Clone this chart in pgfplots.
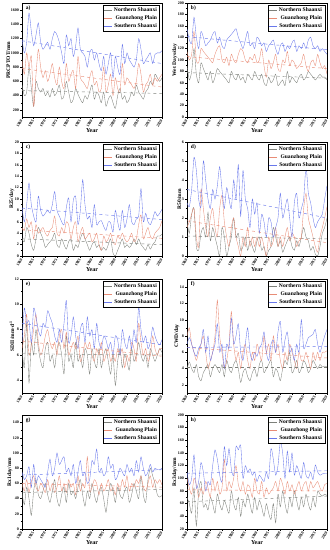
\documentclass[border=0pt]{standalone}
\usepackage{fontspec}
\setmainfont{Liberation Serif}
\usepackage{pgfplots}
\usepackage{pgfplotstable}
\pgfplotsset{compat=1.18}
\definecolor{nsC}{RGB}{125,128,122}
\definecolor{gzC}{RGB}{232,140,118}
\definecolor{ssC}{RGB}{105,120,235}

\pgfplotstableread{
yr N G S
1960 550 900 1200
1961 400 700 1000
1962 450 1000 1150
1963 800 800 1560
1964 500 950 1300
1965 250 250 1100
1966 600 700 1250
1967 500 1050 1420
1968 450 800 1150
1969 500 650 1050
1970 400 750 1100
1971 450 600 1150
1972 380 700 1050
1973 500 850 1200
1974 400 650 1300
1975 450 550 1250
1976 550 800 1150
1977 350 600 1000
1978 400 500 850
1979 600 850 1250
1980 450 600 1100
1981 300 700 1200
1982 350 750 950
1983 500 500 1100
1984 420 950 1350
1985 350 650 1050
1986 300 600 1000
1987 400 550 950
1988 350 500 800
1989 450 650 1000
1990 550 750 1050
1991 350 550 900
1992 450 600 1000
1993 400 450 850
1994 300 500 750
1995 450 800 950
1996 250 450 700
1997 350 550 850
1998 400 700 1000
1999 300 400 650
2000 220 650 950
2001 400 500 800
2002 500 450 700
2003 350 850 1120
2004 400 550 850
2005 300 650 1000
2006 350 600 900
2007 450 550 850
2008 400 500 800
2009 550 600 900
2010 450 850 1200
2011 400 700 1050
2012 350 450 850
2013 450 550 900
2014 500 600 950
2015 600 700 1000
2016 550 550 850
2017 700 650 980
2018 650 600 1000
2019 600 650 1000
2020 650 700 1030
}\da

\pgfplotstableread{
yr N G S
1960 90 115 155
1961 65 100 135
1962 80 110 130
1963 120 150 175
1964 75 100 140
1965 60 95 120
1966 95 120 150
1967 85 115 140
1968 75 110 125
1969 65 105 130
1970 80 100 135
1971 60 95 145
1972 70 110 150
1973 85 120 130
1974 80 125 140
1975 75 100 125
1976 70 95 120
1977 65 105 135
1978 60 90 140
1979 80 110 145
1980 70 100 150
1981 65 95 155
1982 75 110 140
1983 65 120 130
1984 70 115 120
1985 60 100 135
1986 75 95 150
1987 70 105 125
1988 65 100 130
1989 80 110 120
1990 70 95 140
1991 65 100 135
1992 75 120 125
1993 60 90 130
1994 55 70 115
1995 70 100 125
1996 60 85 130
1997 65 95 135
1998 75 110 120
1999 55 85 110
2000 60 80 125
2001 65 100 130
2002 55 95 115
2003 80 115 125
2004 60 90 120
2005 70 100 130
2006 65 95 135
2007 60 85 115
2008 70 90 125
2009 75 95 120
2010 65 110 130
2011 70 90 120
2012 80 80 135
2013 75 95 140
2014 70 100 125
2015 65 90 120
2016 70 110 125
2017 75 95 115
2018 70 85 120
2019 70 90 115
2020 65 75 110
}\db

\pgfplotstableread{
yr N G S
1960 3 5 8.5
1961 2.5 4.5 6
1962 5 6.5 9
1963 4 5 12.8
1964 2 6 9
1965 1 3 7
1966 3 5.5 6
1967 5 4 10.5
1968 4 4.5 8
1969 3 5 7
1970 1.5 4 7.5
1971 2 3.5 8
1972 2.5 4.5 7.5
1973 3 5 9
1974 4 7 11.3
1975 2 4 8
1976 1.5 3.5 7
1977 3 5 6
1978 2 4 5.5
1979 1.2 6 8.5
1980 2.5 5.5 10.2
1981 3 3 6
1982 1 5 9.8
1983 2 6 10.4
1984 1.5 2.5 5.5
1985 3 4 8
1986 4 5 13.4
1987 3 3 9
1988 2 3.5 6.5
1989 1 4 7
1990 2 2.5 5
1991 2.5 3 9
1992 1.5 4 5.5
1993 2 2 6
1994 1 1 6.2
1995 1.5 3.5 5.2
1996 1 2.5 4.5
1997 2 3 6
1998 3 4 5.8
1999 0.5 2.5 4.2
2000 0 2 8
2001 1 3.5 6
2002 2 3 4.5
2003 3 4 8
2004 1.5 3 5
2005 2 2.5 6.5
2006 1.5 3 9
2007 2 4 6
2008 3 2.5 5.5
2009 2 3 6.5
2010 3 5.5 7
2011 2 7.2 11.8
2012 1.5 3 6
2013 1 4 7.5
2014 2 5 6
2015 1.2 3.5 5.5
2016 2 3 6.5
2017 2.5 4 7.8
2018 3.5 4.5 7
2019 3.5 5 7.5
2020 3.8 6.2 8.2
}\dc

\pgfplotstableread{
yr N G S
1960 1.8 1.5 2.8
1961 1.2 1.8 2.6
1962 2.2 2.2 3.5
1963 2.5 2.5 5.2
1964 0.5 1 4.5
1965 0.3 0.5 3
1966 1.2 3.5 2.6
1967 1.5 2.5 5
1968 1 1.5 4
1969 2.3 1 3
1970 0.8 2 2.5
1971 1.5 2.5 3.5
1972 1 1.5 3
1973 0.5 1 3.7
1974 0 2.5 4.7
1975 1.5 3.2 3.5
1976 1 1.8 2.5
1977 0 1 3.6
1978 0.5 0.5 3
1979 1 1.5 2.5
1980 2 2 4
1981 1 1 3
1982 1.2 0.5 4.8
1983 0.3 0 2.1
1984 0.5 1 4.5
1985 1 0.5 3
1986 0.3 1.5 2.5
1987 0.8 0.5 1.5
1988 0.5 1 3
1989 0.2 0.5 2.2
1990 0.8 1 2.8
1991 1 0.5 1.2
1992 0.3 1 2.2
1993 0.5 0.5 1.8
1994 0 0 1
1995 0.3 1 2
1996 0.5 0.5 1.8
1997 1.5 0.8 1
1998 1 1.5 1.5
1999 0.5 0.5 2
2000 0.8 1 3.3
2001 0.2 0.5 2
2002 0.5 1 2.5
2003 0.8 1.5 3
2004 1 0.8 2
2005 0.5 1.2 1
2006 0.3 1 2.8
2007 0.8 0.5 3.3
2008 0.5 0.8 2
2009 1 1 2.5
2010 1.5 2.5 3
2011 1 3.3 4.7
2012 0.8 2 3.3
2013 0.3 1.5 2.8
2014 0.5 1 2
2015 0.1 0.5 1.5
2016 0 0.2 1.8
2017 0.5 1 2
2018 1.2 1.5 2.2
2019 1.5 2 3
2020 2 2.6 3.7
}\dd

\pgfplotstableread{
yr N G S
1960 6.5 6.5 7
1961 5 7.5 9.7
1962 8.5 9.2 8.5
1963 3.8 6 8.7
1964 7 6.8 7
1965 6 8 9.7
1966 8 9.2 9
1967 6.5 7 8
1968 5.5 6 7.5
1969 5 6.5 8.5
1970 6.5 7.5 8.2
1971 7 8 9.5
1972 5.5 7 9
1973 6 6.5 8.5
1974 5 7 7.5
1975 6.5 6 7
1976 7 7.5 8
1977 6 8 7
1978 4.5 6.5 8.5
1979 7.5 7.8 10.3
1980 5.5 6 7
1981 6 6.5 7.5
1982 5 7 9
1983 7 6.5 7.5
1984 5.5 7.5 6.5
1985 6 5.5 8
1986 5 6 8.5
1987 6.5 7 7
1988 6 6.5 9
1989 4.5 7 7.5
1990 6.5 6 8
1991 5.5 5.5 6.5
1992 5 6.5 8.5
1993 6.5 6 7
1994 5 7 6.5
1995 6 5.5 7.5
1996 6.5 6 7.2
1997 5.5 6.5 6.5
1998 4.5 5.5 7
1999 6 6 6
2000 3.6 5.5 7.5
2001 5.5 6.5 7.2
2002 6.5 6 6
2003 5 6.5 8
2004 6 5 7
2005 5.5 6 6.5
2006 4.8 5.5 7.5
2007 6.5 7 6.5
2008 5.5 6.5 8
2009 6 5.5 7
2010 7 8.5 9.8
2011 6 7 8
2012 5.5 6 7
2013 6 6.5 7.5
2014 5 5.5 6.5
2015 6.5 6 7
2016 6 7.5 8.2
2017 5.5 6.5 7.5
2018 6 6 7
2019 6.5 6.5 6.8
2020 6.2 6.5 7.2
}\de

\pgfplotstableread{
yr N G S
1960 4 8 7
1961 4.8 9 7.8
1962 4 7 7
1963 3.5 6 6
1964 4.5 5 5.5
1965 3 6 6.5
1966 2.5 7 7
1967 3.5 8 8.8
1968 4 6 6
1969 4.5 4 8
1970 3 5 5
1971 4 6 6
1972 4.5 8 7
1973 4 12.4 9.5
1974 3.5 8 6
1975 4.5 6 7
1976 3 4 4
1977 5 5 7
1978 4 7 6.5
1979 3.5 11 10.2
1980 4.5 7 7
1981 5 5 8
1982 4 6 9.5
1983 2.3 4 6
1984 3.5 6 5
1985 4 7 7
1986 3 5 9
1987 2.5 4 6
1988 3.5 6 5
1989 4 5 6
1990 3 7 5.5
1991 4.5 6 6.5
1992 5 5 7
1993 3.5 8 8.5
1994 4 6 6
1995 4.5 7 5
1996 5 5 7
1997 3 8 7.5
1998 4 6 6
1999 3.5 7 8.5
2000 2.5 5 9.8
2001 4 4 6
2002 5 6 7.5
2003 4.5 5 8.5
2004 6 7 6
2005 3.5 6 6.5
2006 4 5 5
2007 5 4 7
2008 3.5 6 6
2009 4 5 10
2010 5 5 6.5
2011 4.5 6 7
2012 3.5 5 7.8
2013 4 4 8
2014 5 6 8.2
2015 4.5 5 8.8
2016 4 6 7
2017 4.5 5 6
2018 4.2 6 7
2019 4.3 6 8
2020 4.2 6.2 8.8
}\df

\pgfplotstableread{
yr N G S
1960 48 60 75
1961 32 50 65
1962 55 65 70
1963 40 48 82
1964 18 62 55
1965 50 70 85
1966 65 55 60
1967 45 50 70
1968 40 60 65
1969 50 55 60
1970 60 48 55
1971 45 65 75
1972 35 50 92
1973 50 60 70
1974 65 48 80
1975 40 55 100
1976 30 70 85
1977 45 50 90
1978 55 60 95
1979 35 48 75
1980 60 65 80
1981 45 55 70
1982 50 60 85
1983 40 45 60
1984 55 70 75
1985 65 50 90
1986 45 60 70
1987 30 55 75
1988 50 95 60
1989 40 50 65
1990 60 55 90
1991 45 65 85
1992 35 60 105
1993 50 45 75
1994 55 60 80
1995 40 50 70
1996 22 55 75
1997 45 65 95
1998 60 50 80
1999 50 55 85
2000 35 45 65
2001 55 60 70
2002 45 50 80
2003 40 65 75
2004 50 55 70
2005 55 70 85
2006 35 50 75
2007 45 60 80
2008 60 55 70
2009 50 65 90
2010 40 60 75
2011 70 70 95
2012 45 55 80
2013 35 50 70
2014 65 60 75
2015 80 70 85
2016 70 55 75
2017 60 65 80
2018 45 60 78
2019 42 65 78
2020 44 58 80
}\dg

\pgfplotstableread{
yr N G S
1960 70 100 110
1961 60 85 90
1962 45 75 100
1963 85 100 137
1964 25 90 85
1965 80 70 95
1966 95 85 125
1967 55 75 110
1968 60 95 80
1969 50 85 95
1970 70 70 90
1971 60 100 120
1972 45 80 145
1973 75 95 130
1974 60 75 105
1975 50 85 95
1976 65 130 150
1977 55 80 120
1978 45 95 147
1979 80 85 115
1980 60 100 105
1981 50 120 150
1982 70 90 145
1983 40 80 152
1984 65 95 100
1985 55 75 120
1986 75 90 110
1987 60 85 115
1988 45 70 105
1989 70 100 110
1990 50 80 95
1991 65 75 105
1992 55 95 100
1993 40 70 95
1994 60 85 110
1995 45 75 100
1996 35 80 147
1997 60 85 130
1998 30 95 105
1999 75 80 120
2000 55 100 158
2001 80 90 140
2002 60 75 100
2003 45 95 143
2004 70 80 110
2005 55 90 140
2006 80 75 105
2007 65 85 120
2008 50 95 110
2009 70 80 100
2010 55 90 125
2011 75 95 105
2012 60 80 100
2013 50 95 110
2014 70 85 98
2015 55 90 121
2016 80 95 110
2017 75 85 105
2018 72 80 107
2019 75 90 108
2020 73 92 108
}\dh

\pgfplotsset{
  panel/.style={
    scale only axis, width=140bp, height=114bp,
    xmin=1960, xmax=2020, xtick={1960,1965,...,2020},
    /pgf/number format/1000 sep={},
    /pgf/number format/assume math mode=true,
    xtick pos=left, ytick pos=left, tick align=outside,
    major tick length=2bp, minor tick length=1.2bp,
    minor y tick num=1,
    tick style={black, line width=0.4pt},
    axis line style={line width=0.5pt},
    xticklabel style={rotate=60, anchor=east, font=\fontsize{4}{4}\selectfont\bfseries, inner sep=1pt},
    yticklabel style={font=\fontsize{4}{4}\selectfont\bfseries, inner sep=1pt},
    xlabel={Year},
    xlabel style={font=\fontsize{6}{6}\selectfont\bfseries, yshift=4pt},
    ylabel style={font=\fontsize{5.5}{5.5}\selectfont\bfseries, yshift=-4pt},
    legend style={at={(0.985,0.985)}, anchor=north east, draw=black, line width=0.4pt,
      font=\fontsize{5.6}{6}\selectfont\bfseries, inner sep=0.8pt, row sep=-1.5pt},
    legend cell align=right,
    legend image code/.code={\draw[#1] (0bp,0bp) -- (8bp,0bp);},
    every axis plot/.append style={line width=0.35pt, smooth, tension=0.4},
  },
  ns/.style={nsC},
  gz/.style={gzC},
  ss/.style={ssC},
  tr/.style={dashed, line width=0.45pt, sharp plot, forget plot},
}
\newcommand{\tag}[1]{\node[anchor=north west, font=\fontsize{5.5}{5.5}\selectfont\bfseries, inner sep=1pt] at (rel axis cs:0.02,0.985) {#1};}
\newcommand{\leg}{\legend{Northern Shaanxi, Guanzhong Plain, Southern Shaanxi}}

\begin{document}
\begin{tikzpicture}
\path[use as bounding box] (0,0) rectangle (330bp,550bp);

% a
\begin{axis}[panel, at={(22bp,433bp)}, anchor=south west,
  ymin=100, ymax=1700, ytick={200,400,...,1600}, ylabel={PRCPTOT/mm}]
\addplot[ns] table[x=yr,y=N]{\da};
\addplot[gz] table[x=yr,y=G]{\da};
\addplot[ss] table[x=yr,y=S]{\da};
\addplot[ns,tr] coordinates {(1960,470) (2020,430)};
\addplot[gz,tr] coordinates {(1960,780) (2020,520)};
\addplot[ss,tr] coordinates {(1960,1170) (2020,850)};
\leg
\tag{a)}
\end{axis}

% b
\begin{axis}[panel, at={(187bp,433bp)}, anchor=south west,
  ymin=0, ymax=200, ytick={0,20,...,200}, ylabel={Wet Days/day}]
\addplot[ns] table[x=yr,y=N]{\db};
\addplot[gz] table[x=yr,y=G]{\db};
\addplot[ss] table[x=yr,y=S]{\db};
\addplot[ns,tr] coordinates {(1960,78) (2020,68)};
\addplot[gz,tr] coordinates {(1960,106) (2020,85)};
\addplot[ss,tr] coordinates {(1960,141) (2020,118)};
\leg
\tag{b)}
\end{axis}

% c
\begin{axis}[panel, at={(22bp,294bp)}, anchor=south west,
  ymin=0, ymax=20, ytick={0,2,...,20}, ylabel={R25/day}]
\addplot[ns] table[x=yr,y=N]{\dc};
\addplot[gz] table[x=yr,y=G]{\dc};
\addplot[ss] table[x=yr,y=S]{\dc};
\addplot[ns,tr] coordinates {(1960,3.0) (2020,2.0)};
\addplot[gz,tr] coordinates {(1960,4.6) (2020,3.1)};
\addplot[ss,tr] coordinates {(1960,8.4) (2020,6.4)};
\leg
\tag{c)}
\end{axis}

% d
\begin{axis}[panel, at={(187bp,294bp)}, anchor=south west,
  ymin=0, ymax=6, ytick={0,1,...,6}, ylabel={R50/mm}]
\addplot[ns] table[x=yr,y=N]{\dd};
\addplot[gz] table[x=yr,y=G]{\dd};
\addplot[ss] table[x=yr,y=S]{\dd};
\addplot[ns,tr] coordinates {(1960,1.05) (2020,0.9)};
\addplot[gz,tr] coordinates {(1960,1.85) (2020,0.7)};
\addplot[ss,tr] coordinates {(1960,3.5) (2020,2.0)};
\leg
\tag{d)}
\end{axis}

% e
\begin{axis}[panel, at={(22bp,157bp)}, anchor=south west,
  ymin=3, ymax=12, ytick={4,6,...,12}, ylabel={SDII/mm·d\textsuperscript{-1}}]
\addplot[ns] table[x=yr,y=N]{\de};
\addplot[gz] table[x=yr,y=G]{\de};
\addplot[ss] table[x=yr,y=S]{\de};
\addplot[ns,tr] coordinates {(1960,6.1) (2020,6.0)};
\addplot[gz,tr] coordinates {(1960,7.1) (2020,5.9)};
\addplot[ss,tr] coordinates {(1960,8.5) (2020,6.8)};
\leg
\tag{e)}
\end{axis}

% f
\begin{axis}[panel, at={(187bp,157bp)}, anchor=south west,
  ymin=1, ymax=15, ytick={2,4,...,14}, ylabel={CWD/day}]
\addplot[ns] table[x=yr,y=N]{\df};
\addplot[gz] table[x=yr,y=G]{\df};
\addplot[ss] table[x=yr,y=S]{\df};
\addplot[ns,tr] coordinates {(1960,4.2) (2020,4.2)};
\addplot[gz,tr] coordinates {(1960,6.6) (2020,5.3)};
\addplot[ss,tr] coordinates {(1960,6.6) (2020,6.7)};
\leg
\tag{f)}
\end{axis}

% g
\begin{axis}[panel, at={(22bp,21bp)}, anchor=south west,
  ymin=0, ymax=150, ytick={0,20,...,140}, ylabel={Rx1day/mm}]
\addplot[ns] table[x=yr,y=N]{\dg};
\addplot[gz] table[x=yr,y=G]{\dg};
\addplot[ss] table[x=yr,y=S]{\dg};
\addplot[ns,tr] coordinates {(1960,48) (2020,52)};
\addplot[gz,tr] coordinates {(1960,60) (2020,55)};
\addplot[ss,tr] coordinates {(1960,71) (2020,78)};
\leg
\tag{g)}
\end{axis}

% h
\begin{axis}[panel, at={(187bp,21bp)}, anchor=south west,
  ymin=20, ymax=200, ytick={20,40,...,200}, ylabel={Rx3day/mm}]
\addplot[ns] table[x=yr,y=N]{\dh};
\addplot[gz] table[x=yr,y=G]{\dh};
\addplot[ss] table[x=yr,y=S]{\dh};
\addplot[ns,tr] coordinates {(1960,63) (2020,72)};
\addplot[gz,tr] coordinates {(1960,82) (2020,80)};
\addplot[ss,tr] coordinates {(1960,108) (2020,112)};
\leg
\tag{h)}
\end{axis}
\end{tikzpicture}
\end{document}
